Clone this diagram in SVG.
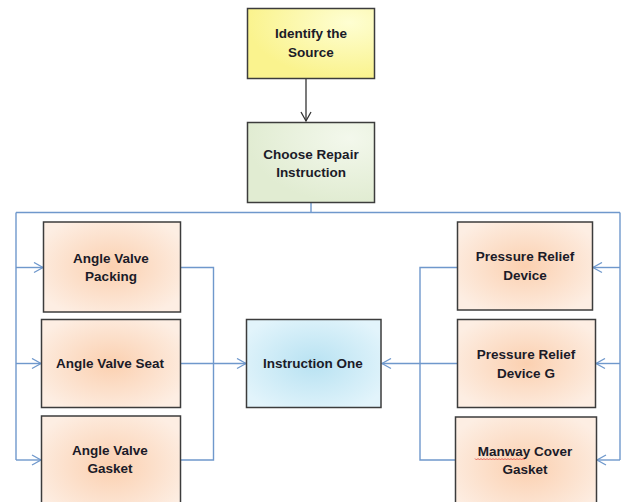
<svg xmlns="http://www.w3.org/2000/svg" width="621" height="502" viewBox="0 0 621 502">
<defs>
<radialGradient id="gOrange" cx="50%" cy="50%" r="60%">
<stop offset="0" stop-color="#fbd0b0"/>
<stop offset="1" stop-color="#fdeee3"/>
</radialGradient>
<radialGradient id="gBlue" cx="50%" cy="50%" r="60%">
<stop offset="0" stop-color="#b8e2f2"/>
<stop offset="1" stop-color="#e2f4fb"/>
</radialGradient>
<radialGradient id="gYellow" cx="80%" cy="20%" r="80%">
<stop offset="0" stop-color="#fefed2"/>
<stop offset="1" stop-color="#faf38e"/>
</radialGradient>
<radialGradient id="gGreen" cx="80%" cy="20%" r="80%">
<stop offset="0" stop-color="#f3f8ec"/>
<stop offset="1" stop-color="#e1ecd2"/>
</radialGradient>
<marker id="arrBlue" markerWidth="12" markerHeight="12" refX="10" refY="6" orient="auto" markerUnits="userSpaceOnUse">
<path d="M1,1 L10,6 L1,11" fill="none" stroke="#6f98cc" stroke-width="1.3"/>
</marker>
</defs>
<style>
.box{stroke:#3c3c3c;stroke-width:1.5}
.t{font-family:"Liberation Sans",Arial,sans-serif;font-weight:bold;font-size:13.5px;fill:#1b1b28;text-anchor:middle}
.c{fill:none;stroke:#6f98cc;stroke-width:1.4}
</style>
<rect width="621" height="502" fill="#ffffff"/>
<g id="connectors">
<line x1="306" y1="79" x2="306" y2="121" stroke="#333" stroke-width="1.3"/>
<path d="M301,112 L306,121 L311,112" fill="none" stroke="#333" stroke-width="1.3"/>
<path class="c" d="M311,203 V212.5"/>
<path class="c" d="M16,212.5 H620"/>
<path class="c" d="M16,212.5 V460"/>
<path class="c" d="M620,212.5 V460"/>
<path class="c" d="M16,267.5 H43" marker-end="url(#arrBlue)"/>
<path class="c" d="M16,363.5 H41" marker-end="url(#arrBlue)"/>
<path class="c" d="M16,460 H41" marker-end="url(#arrBlue)"/>
<path class="c" d="M620,267.5 H593" marker-end="url(#arrBlue)"/>
<path class="c" d="M620,363.5 H596" marker-end="url(#arrBlue)"/>
<path class="c" d="M620,460 H597" marker-end="url(#arrBlue)"/>
<path class="c" d="M181,267.5 H213.5 V460 H181"/>
<path class="c" d="M181,363.5 H246" marker-end="url(#arrBlue)"/>
<path class="c" d="M457,267.5 H420 V460 H456"/>
<path class="c" d="M457,363.5 H382" marker-end="url(#arrBlue)"/>
</g>
<g id="identify">
<rect class="box" x="247.5" y="8.5" width="127" height="70" fill="url(#gYellow)"/>
<text class="t" x="311" y="38">Identify the</text>
<text class="t" x="311" y="57">Source</text>
</g>
<g id="choose">
<rect class="box" x="247.5" y="122.5" width="127" height="80" fill="url(#gGreen)"/>
<text class="t" x="311" y="159">Choose Repair</text>
<text class="t" x="311" y="177">Instruction</text>
</g>
<g id="avp">
<rect class="box" x="43.5" y="222" width="137" height="90" fill="url(#gOrange)"/>
<text class="t" x="111" y="262.5">Angle Valve</text>
<text class="t" x="111" y="281">Packing</text>
</g>
<g id="avs">
<rect class="box" x="41.5" y="319.5" width="139" height="88" fill="url(#gOrange)"/>
<text class="t" x="110" y="368">Angle Valve Seat</text>
</g>
<g id="avg">
<rect class="box" x="41.5" y="416" width="139" height="100" fill="url(#gOrange)"/>
<text class="t" x="110" y="455">Angle Valve</text>
<text class="t" x="110" y="473">Gasket</text>
</g>
<g id="instr">
<rect class="box" x="246.5" y="319.5" width="134.5" height="88" fill="url(#gBlue)"/>
<text class="t" x="313" y="368">Instruction One</text>
</g>
<g id="prd">
<rect class="box" x="457.5" y="222" width="135" height="88" fill="url(#gOrange)"/>
<text class="t" x="525" y="261">Pressure Relief</text>
<text class="t" x="525" y="280">Device</text>
</g>
<g id="prdg">
<rect class="box" x="457.5" y="319.5" width="138" height="88" fill="url(#gOrange)"/>
<text class="t" x="526" y="359">Pressure Relief</text>
<text class="t" x="526" y="377.5">Device G</text>
</g>
<g id="manway">
<rect class="box" x="455.5" y="417" width="141" height="100" fill="url(#gOrange)"/>
<text class="t" x="525" y="455.5">Manway Cover</text>
<text class="t" x="525" y="474">Gasket</text>
<path d="M475,458.5 l1.5,1.5 l1.5,-1.5 l1.5,1.5 l1.5,-1.5 l1.5,1.5 l1.5,-1.5 l1.5,1.5 l1.5,-1.5 l1.5,1.5 l1.5,-1.5 l1.5,1.5 l1.5,-1.5 l1.5,1.5 l1.5,-1.5 l1.5,1.5 l1.5,-1.5 l1.5,1.5 l1.5,-1.5 l1.5,1.5 l1.5,-1.5 l1.5,1.5 l1.5,-1.5 l1.5,1.5 l1.5,-1.5 l1.5,1.5 l1.5,-1.5 l1.5,1.5 l1.5,-1.5 l1.5,1.5 l1.5,-1.5 l1.5,1.5 l1.5,-1.5 l1.5,1.5" fill="none" stroke="#e0443a" stroke-width="0.8"/>
</g>
</svg>
